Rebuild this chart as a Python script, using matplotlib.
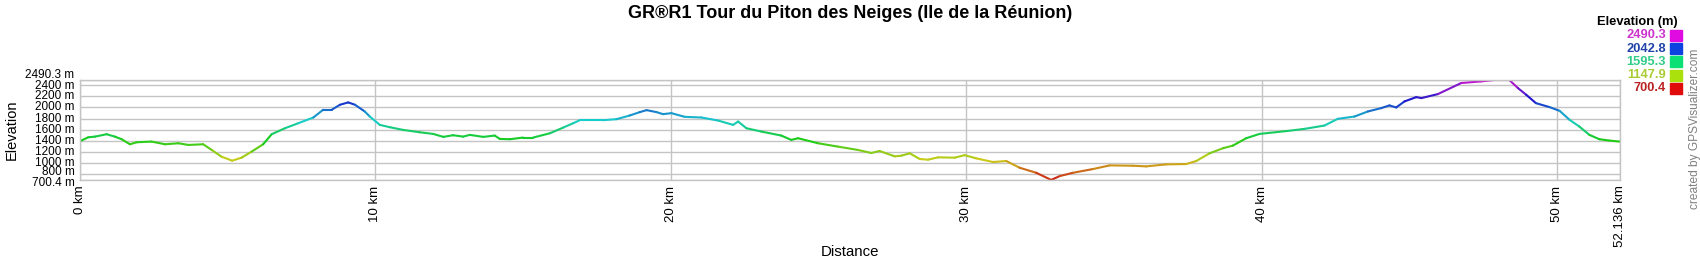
import numpy as np
import matplotlib
matplotlib.use("Agg")
import matplotlib.pyplot as plt
from matplotlib.collections import LineCollection
from matplotlib.colors import ListedColormap, Normalize, hsv_to_rgb
from matplotlib.transforms import ScaledTranslation

plt.rcParams['font.family'] = ['Liberation Sans', 'DejaVu Sans']

title = "GR®R1 Tour du Piton des Neiges (Ile de la Réunion)"

distance_km = [0.00, 0.28, 0.51, 0.90, 1.18, 1.41, 1.69, 1.92, 2.42, 2.88, 3.33, 3.67,
               4.17, 4.46, 4.79, 5.15, 5.47, 5.81, 6.20, 6.49, 6.94, 7.39, 7.90, 8.23,
               8.52, 8.80, 9.08, 9.31, 9.64, 9.81, 10.15, 10.49, 10.94, 11.50, 11.96,
               12.30, 12.63, 12.97, 13.20, 13.65, 14.04, 14.21, 14.55, 15.00, 15.34,
               15.91, 16.36, 16.70, 16.92, 17.71, 18.16, 18.61, 18.95, 19.18, 19.52,
               19.74, 20.02, 20.47, 21.04, 21.60, 22.11, 22.28, 22.56, 23.07, 23.74,
               24.08, 24.31, 24.99, 25.66, 26.34, 26.79, 27.07, 27.58, 27.81, 28.09,
               28.43, 28.71, 29.05, 29.61, 29.95, 30.34, 30.91, 31.36, 31.81, 32.37,
               32.88, 33.17, 33.62, 34.29, 34.86, 35.64, 36.10, 36.77, 37.45, 37.79,
               38.24, 38.69, 39.03, 39.48, 39.93, 40.89, 41.45, 42.13, 42.58, 43.15,
               43.60, 44.05, 44.33, 44.56, 44.84, 45.24, 45.41, 45.97, 46.76, 47.44,
               47.88, 48.39, 48.68, 48.96, 49.29, 49.75, 50.09, 50.43, 50.76, 51.10,
               51.44, 51.78, 52.136]
elevation_m = [1395, 1465, 1477, 1520, 1477, 1430, 1340, 1376, 1388, 1340, 1358, 1328,
               1340, 1238, 1118, 1046, 1100, 1208, 1340, 1520, 1627, 1717, 1819, 1957,
               1957, 2047, 2089, 2047, 1927, 1837, 1687, 1645, 1597, 1555, 1525,
               1472, 1502, 1477, 1508, 1472, 1496, 1436, 1430, 1460, 1460,
               1537, 1639, 1717, 1771, 1771, 1789, 1855, 1915, 1951, 1915,
               1879, 1897, 1831, 1819, 1765, 1687, 1747, 1627, 1567, 1496,
               1418, 1448, 1358, 1298, 1238, 1184, 1220, 1124, 1136, 1178,
               1076, 1064, 1106, 1100, 1145, 1088, 1022, 1040, 920, 830,
               702, 771, 830, 896, 962, 956, 944, 980, 986, 1040,
               1178, 1268, 1316, 1448, 1525, 1579, 1615, 1675, 1795, 1837,
               1927, 1987, 2035, 1999, 2107, 2184, 2166, 2238, 2436, 2466,
               2490, 2490, 2346, 2226, 2076, 2005, 1939, 1777, 1657, 1508,
               1430, 1406, 1388]

elev_min, elev_max = 700.4, 2490.3
y_ticks = [700.4, 800, 1000, 1200, 1400, 1600, 1800, 2000, 2200, 2400, 2490.3]
y_labels = ["700.4 m", "800 m", "1000 m", "1200 m", "1400 m", "1600 m", "1800 m",
            "2000 m", "2200 m", "2400 m", "2490.3 m"]
x_ticks = [0, 10, 20, 30, 40, 50, 52.136]
x_labels = ["0 km", "10 km", "20 km", "30 km", "40 km", "50 km", "52.136 km"]
legend_values = [2490.3, 2042.8, 1595.3, 1147.9, 700.4]
legend_text_colors = ["#CC33CC", "#2244AA", "#33CC88", "#AACC33", "#BB2222"]

# hue scale: red (low) -> magenta (high)
hues = np.linspace(0, 300 / 360, 256)
cmap = ListedColormap(hsv_to_rgb(np.stack([hues, np.full(256, 0.88), np.full(256, 0.80)], axis=1)))
norm = Normalize(elev_min, elev_max)
legend_cmap = ListedColormap(hsv_to_rgb(np.stack([hues, np.full(256, 0.95), np.full(256, 0.88)], axis=1)))

fig = plt.figure(figsize=(17, 2.6), dpi=100)
ax = fig.add_axes([80 / 1700, 1 - 180 / 260, 1540 / 1700, 100 / 260])

x = np.array(distance_km)
y = np.array(elevation_m)
pts = np.stack([x, y], axis=1)
segs = np.stack([pts[:-1], pts[1:]], axis=1)
lc = LineCollection(segs, cmap=cmap, norm=norm, linewidth=1.5, capstyle='round', joinstyle='round')
lc.set_array((y[:-1] + y[1:]) / 2)
ax.add_collection(lc)

ax.set_xlim(0, 52.136)
ax.set_ylim(elev_min, elev_max)
ax.set_yticks(y_ticks)
ax.set_yticklabels(y_labels, fontsize=8.5)
ax.set_xticks(x_ticks)
ax.set_xticklabels(x_labels, fontsize=9.5, rotation=90)
ax.tick_params(axis='both', length=0, pad=4)
ax.grid(True, color='#C4C4C4', linewidth=1.0)
ax.set_axisbelow(True)
for s in ax.spines.values():
    s.set_color('#C4C4C4')
    s.set_linewidth(1.0)

# nudge y labels as in the reference (pixel offsets, + = up)
offsets_px = {"2490.3 m": 6.5, "2400 m": 1, "800 m": 4, "700.4 m": -1}
for lab in ax.get_yticklabels():
    d = offsets_px.get(lab.get_text(), 1.5)
    lab.set_transform(lab.get_transform() + ScaledTranslation(0, d / 100, fig.dpi_scale_trans))

fig.text(12 / 1700, 1 - 130 / 260, "Elevation", rotation=90, fontsize=10.5,
         ha='center', va='center')
fig.text(850 / 1700, 1 - 252 / 260, "Distance", fontsize=10.8, ha='center', va='center')
fig.text(850 / 1700, 1 - 14 / 260, title, fontsize=13, fontweight='bold',
         ha='center', va='center')

# legend
fig.text(1678 / 1700, 1 - 22 / 260, "Elevation (m)", fontsize=9.3, fontweight='bold',
         ha='right', va='center')
for i, (v, tc) in enumerate(zip(legend_values, legend_text_colors)):
    yc = 35.5 + i * 13.2
    fig.text(1666 / 1700, 1 - yc / 260, f"{v:.1f}", fontsize=9.3, fontweight='bold',
             color=tc, ha='right', va='center')
    fig.patches.append(plt.Rectangle((1670 / 1700, 1 - (yc + 5.5) / 260), 12 / 1700, 11 / 260,
                                     transform=fig.transFigure, color=legend_cmap(norm(v)),
                                     figure=fig))

fig.text(1695 / 1700, 1 - 129 / 260, "created by GPSVisualizer.com", rotation=90,
         fontsize=8.6, color='#808080', ha='center', va='center')

fig.savefig("out.png", dpi=100)
